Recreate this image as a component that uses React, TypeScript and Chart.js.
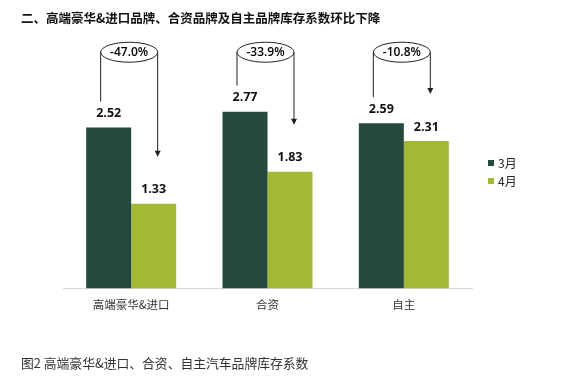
import React, { useEffect, useRef } from "react";
import { Chart, registerables } from "chart.js";

Chart.register(...registerables);

const categories = ["高端豪华&进口", "合资", "自主"];
const march = [2.52, 2.77, 2.59];
const april = [1.33, 1.83, 2.31];
const changes = ["-47.0%", "-33.9%", "-10.8%"];
const seriesNames = ["3月", "4月"];
const titleText = "二、高端豪华&进口品牌、合资品牌及自主品牌库存系数环比下降";
const captionText = "图2 高端豪华&进口、合资、自主汽车品牌库存系数";

const DARK = "#27483f";
const GREEN = "#a3b935";
const CJK = "'Noto Sans CJK SC', 'Noto Sans', sans-serif";
const NUM = "'Open Sans', 'Noto Sans', sans-serif";

const overlay = {
  id: "overlay",
  afterDraw(chart: any) {
    const ctx = chart.ctx;
    const y = chart.scales.y;
    const m0 = chart.getDatasetMeta(0);
    const m1 = chart.getDatasetMeta(1);
    ctx.save();
    // title
    ctx.textBaseline = "middle";
    ctx.textAlign = "left";
    ctx.fillStyle = "#111";
    ctx.font = "bold 12.5px " + CJK;
    ctx.fillText(titleText, 21, 18);
    // caption
    ctx.fillStyle = "#333";
    ctx.font = "12.8px " + CJK;
    ctx.fillText(captionText, 21, 363);
    // legend
    const colors = [DARK, GREEN];
    ctx.font = "12px " + CJK;
    seriesNames.forEach((n, i) => {
      ctx.fillStyle = colors[i];
      ctx.fillRect(488, 160 + i * 18, 6, 6);
      ctx.fillStyle = "#222";
      ctx.fillText(n, 498, 163.5 + i * 18);
    });
    // value labels
    ctx.textAlign = "center";
    ctx.fillStyle = "#111";
    ctx.font = "bold 12.5px " + NUM;
    [m0, m1].forEach((meta: any, di: number) => {
      const vals = di === 0 ? march : april;
      meta.data.forEach((bar: any, i: number) => {
        ctx.fillText(vals[i].toFixed(2), bar.x, bar.y - 14);
      });
    });
    // annotations
    ctx.strokeStyle = "#222";
    ctx.lineWidth = 1;
    categories.forEach((_, i) => {
      const d = m0.data[i];
      const g = m1.data[i];
      const xl = d.x - 8;
      const xr = g.x + 4;
      const cx = (xl + xr) / 2;
      const rx = (xr - xl) / 2;
      const cy = y.getPixelForValue(3.70);
      const ry = 10;
      ctx.beginPath();
      ctx.ellipse(cx, cy, rx, ry, 0, 0, Math.PI * 2);
      ctx.fillStyle = "#fff";
      ctx.fill();
      ctx.stroke();
      ctx.beginPath();
      ctx.moveTo(xl, cy);
      ctx.lineTo(xl, d.y - 26);
      const tip = g.y - 47;
      ctx.moveTo(xr, cy);
      ctx.lineTo(xr, tip - 5);
      ctx.stroke();
      ctx.beginPath();
      ctx.moveTo(xr - 3, tip - 6);
      ctx.lineTo(xr + 3, tip - 6);
      ctx.lineTo(xr, tip);
      ctx.closePath();
      ctx.fillStyle = "#222";
      ctx.fill();
      ctx.fillStyle = "#000";
      ctx.font = "600 12px " + NUM;
      ctx.fillText(changes[i], cx, cy + 0.5);
    });
    ctx.restore();
  },
};

export default function App() {
  const ref = useRef<HTMLCanvasElement>(null);
  useEffect(() => {
    if (!ref.current) return;
    const chart = new Chart(ref.current, {
      type: "bar",
      data: {
        labels: categories,
        datasets: [
          { label: seriesNames[0], data: march, backgroundColor: DARK },
          { label: seriesNames[1], data: april, backgroundColor: GREEN },
        ],
      },
      options: {
        responsive: false,
        animation: false,
        devicePixelRatio: 1,
        layout: { padding: { left: 63, right: 108, top: 65, bottom: 57.6 } },
        plugins: { legend: { display: false }, tooltip: { enabled: false } },
        datasets: { bar: { barPercentage: 1, categoryPercentage: 0.66 } },
        scales: {
          x: {
            grid: { display: false, drawTicks: false },
            border: { display: true, color: "#d9d9d9", width: 1 },
            ticks: { color: "#333", padding: 9, font: { size: 11.5, family: CJK } },
          },
          y: { display: false, min: 0, max: 3.5 },
        },
      },
      plugins: [overlay],
    });
    return () => chart.destroy();
  }, []);
  return (
    <div style={{ position: "fixed", left: 0, top: 0, width: 580, height: 378, background: "#fff" }}>
      <canvas ref={ref} width={580} height={378} />
    </div>
  );
}
